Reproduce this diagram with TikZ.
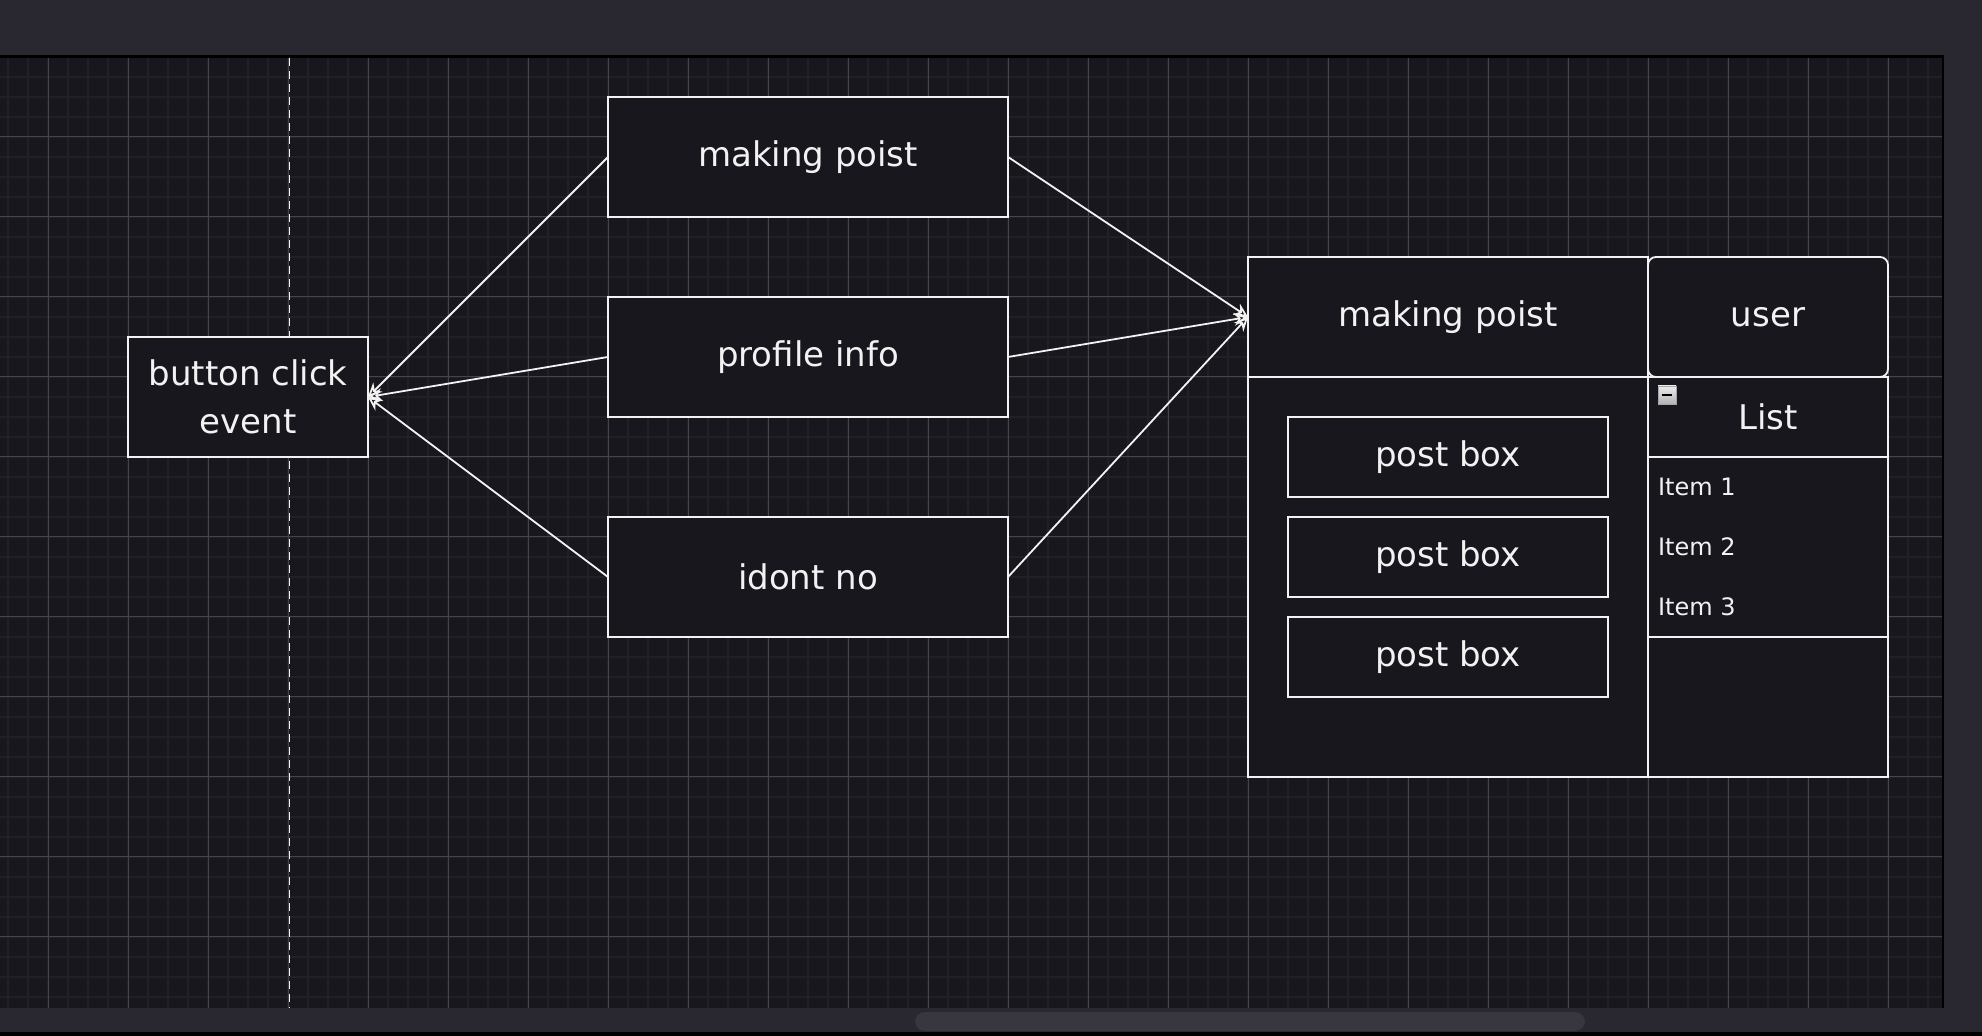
\documentclass[tikz,border=0pt]{standalone}
\usepackage{fontspec}
\setmainfont{DejaVu Sans}
\usetikzlibrary{trees,positioning,arrows.meta}
\definecolor{canvas}{HTML}{18171E}
\definecolor{chrome}{HTML}{29272F}
\definecolor{minorgrid}{HTML}{212027}
\definecolor{majorgrid}{HTML}{45444A}
\definecolor{thumb}{HTML}{38363E}
\definecolor{ink}{HTML}{F2F2F2}

\begin{document}
\begin{tikzpicture}[x=0.5pt, y=-0.5pt,
  every node/.style = {shape=rectangle, draw=ink, line width=0.9pt,
    fill=canvas, text=ink, inner sep=0pt, outer sep=0pt,
    font=\fontsize{17}{24}\selectfont},
  wide/.style = {minimum width=200pt, minimum height=60pt},
  postbox/.style = {minimum width=160pt, minimum height=40pt},
  side/.style = {minimum width=120pt},
  item/.style = {draw=none, fill=none, anchor=west,
    font=\fontsize{12}{14}\selectfont},
  toggle/.style = {minimum size=9pt, draw=gray!70, line width=0.4pt,
    top color=gray!15, bottom color=gray!60, text=black},
  link/.style = {draw=ink, line width=0.9pt},
  edge from parent/.style = {link, arrows={Stealth[open,length=7pt,width=6.5pt]-}}]
  % window and canvas
  \useasboundingbox (0,0) rectangle (1982,1036);
  \fill[chrome] (0,0) rectangle (1982,1036);
  \fill[black] (0,1032) rectangle (1982,1036);
  \fill[black] (0,55) rectangle (1944,1008);
  \fill[canvas] (0,58) rectangle (1942,1008);
  \fill[thumb, rounded corners=5pt] (915,1012) rectangle (1585,1031);
  \begin{scope}
    \clip (0,58) rectangle (1942,1008);
    \foreach \x in {8,28,...,1940} \draw[minorgrid, line width=0.6pt] (\x,58) -- (\x,1008);
    \foreach \y in {77,97,...,1007} \draw[minorgrid, line width=0.6pt] (0,\y) -- (1942,\y);
    \foreach \x in {48,128,...,1928} \draw[majorgrid, line width=0.5pt] (\x,58) -- (\x,1008);
    \foreach \y in {137,217,...,937} \draw[majorgrid, line width=0.5pt] (0,\y) -- (1942,\y);
  \end{scope}
  \draw[ink, dash pattern=on 4pt off 2.5pt, line width=0.5pt] (289,58) -- (289,1008);
  % event fan
  \node (btn) [minimum width=120pt, minimum height=60pt, align=center] at (248,397)
    {button click\\event}
    [grow via three points={one child at (560,0) and two children at (560,-120) and (560,90)},
     edge from parent path={(\tikzparentnode.east) -- (\tikzchildnode.west)}]
    child {node (mk) [wide] {making poist}}
    child {node (pi) [wide, yshift=5pt] {profile info}}
    child {node (idk) [wide] {idont no}};
  % board
  \node (board) [wide] at (1448,317) {making poist};
  \node (boardbody) [minimum width=200pt, minimum height=200pt, below=0pt of board] {};
  \node (pb1) [postbox] at (1448,457) {post box};
  \node (pb2) [postbox, below=10pt of pb1] {post box};
  \node (pb3) [postbox, below=10pt of pb2] {post box};
  % user column
  \node (usr) [side, minimum height=60pt, rounded corners=4pt, right=0pt of board] {user};
  \node (usrbody) [side, minimum height=200pt, below=0pt of usr] {};
  \node (lst) [side, minimum height=40pt, below=0pt of usr] {List};
  \node (rows) [side, minimum height=90pt, below=0pt of lst] {};
  \foreach \i in {1,2,3}
    \node (item\i) [item] at ([xshift=5pt, yshift=15pt-30pt*\i] rows.north west) {Item \i};
  \node (tog) [toggle] at (1667,395) {\rule{5pt}{1.3pt}};
  \foreach \src in {mk,pi,idk}
    \draw[link, -{Stealth[open,length=7pt,width=6.5pt]}] (\src.east) -- (board.west);
\end{tikzpicture}
\end{document}
